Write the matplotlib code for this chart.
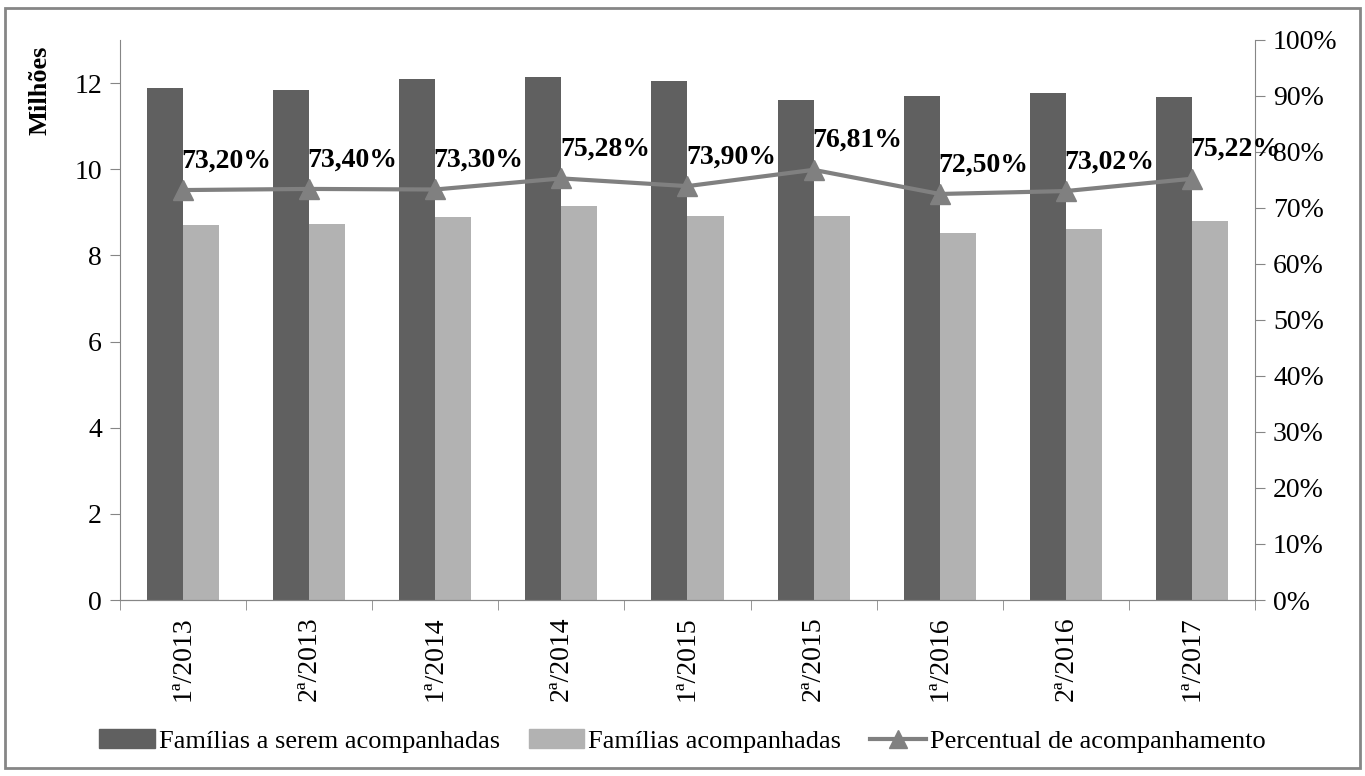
import numpy as np
import matplotlib.pyplot as plt
from matplotlib.patches import Rectangle
from matplotlib.lines import Line2D
from matplotlib.patches import Patch

plt.rcParams['font.family'] = ['Liberation Serif', 'DejaVu Serif']

periodos = ['1ª/2013', '2ª/2013', '1ª/2014', '2ª/2014', '1ª/2015',
            '2ª/2015', '1ª/2016', '2ª/2016', '1ª/2017']
a_acompanhar = [11.88, 11.84, 12.09, 12.14, 12.05, 11.60, 11.70, 11.77, 11.68]
acompanhadas = [8.70, 8.73, 8.89, 9.15, 8.91, 8.91, 8.52, 8.61, 8.80]
percentual = [0.7320, 0.7340, 0.7330, 0.7528, 0.7390, 0.7681, 0.7250, 0.7302, 0.7522]
rotulos = ['73,20%', '73,40%', '73,30%', '75,28%', '73,90%',
           '76,81%', '72,50%', '73,02%', '75,22%']

escuro = '#606060'
claro = '#b2b2b2'
linha = '#808080'
eixo = '#868686'

fig = plt.figure(figsize=(13.65, 7.76), dpi=100)
ax = fig.add_axes([0.0879, 0.2268, 0.8315, 0.7217])
ax2 = ax.twinx()

x = np.arange(len(periodos))
w = 0.286
ax.bar(x - w / 2, a_acompanhar, w, color=escuro, zorder=2)
ax.bar(x + w / 2, acompanhadas, w, color=claro, zorder=2)

ax2.plot(x, percentual, color=linha, lw=3, marker='^', ms=15,
         markerfacecolor=linha, markeredgecolor=linha, zorder=3)
for xi, p, r in zip(x, percentual, rotulos):
    ax2.annotate(r, (xi, p), xytext=(-1, 12), textcoords='offset points',
                 ha='left', va='bottom', fontsize=20, fontweight='bold')

ax.set_xlim(-0.5, len(periodos) - 0.5)
ax.set_ylim(0, 13)
ax.set_yticks(range(0, 13, 2))
ax2.set_ylim(0, 1)
ax2.set_yticks(np.arange(0, 1.01, 0.1))
ax2.set_yticklabels([f'{int(round(v * 100))}%' for v in np.arange(0, 1.01, 0.1)])

ax.set_xticks(x)
ax.set_xticklabels(periodos, rotation=90, fontsize=20)
ax.set_xticks(np.arange(-0.5, len(periodos), 1), minor=True)
ax.tick_params(axis='x', which='major', length=0, pad=12)
ax.tick_params(axis='x', which='minor', length=7, color=eixo)
ax.tick_params(axis='y', labelsize=20, length=7, color=eixo, pad=6)
ax2.tick_params(axis='y', labelsize=20, length=7, color=eixo, pad=6)

for a in (ax, ax2):
    a.spines['top'].set_visible(False)
    for s in ('left', 'right', 'bottom'):
        a.spines[s].set_color(eixo)
ax2.spines['left'].set_visible(False)
ax.spines['right'].set_visible(False)

fig.text(40 / 1365, 1 - 90 / 776, 'Milhões', rotation=90, ha='center',
         va='center', fontsize=19, fontweight='bold')

handles = [Patch(color=escuro), Patch(color=claro),
           Line2D([0], [0], color=linha, lw=3, marker='^', ms=13)]
labels = ['Famílias a serem acompanhadas', 'Famílias acompanhadas',
          'Percentual de acompanhamento']
fig.legend(handles, labels, loc='center', bbox_to_anchor=(0.5, 1 - 741 / 776),
           ncol=3, frameon=False, fontsize=19, handlelength=2.1,
           handletextpad=0.15, columnspacing=1.1)

fig.add_artist(Rectangle((5 / 1365, 8 / 776), 1355 / 1365, 760 / 776,
                         transform=fig.transFigure, fill=False,
                         edgecolor='#868686', lw=2))

plt.savefig('out.png', dpi=100)
